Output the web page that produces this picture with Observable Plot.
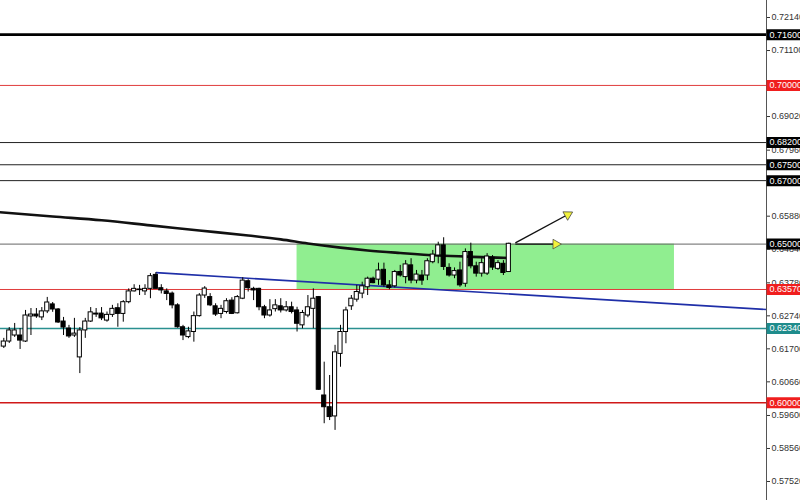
<!DOCTYPE html>
<html>
<head>
<meta charset="utf-8">
<script src="https://cdn.jsdelivr.net/npm/d3@7"></script>
<script src="https://cdn.jsdelivr.net/npm/@observablehq/plot@0.6"></script>
<style>
  html, body { margin: 0; padding: 0; background: #fff; }
  #chart svg { display: block; }
</style>
</head>
<body>
<div id="chart"></div>
<script>
// ---- Candles (open / high / low / close), one per bar index ----
const candleOpen = [
  0.6177,0.6193,0.6212,0.6212,0.6193,0.6272,0.6278,0.6269,0.6288,0.6310,
  0.6294,0.6256,0.6234,0.6212,0.6143,0.6228,0.6256,0.6278,0.6281,0.6259,
  0.6277,0.6298,0.6280,0.6317,0.6351,0.6357,0.6351,0.6359,0.6403,0.6361,
  0.6351,0.6344,0.6307,0.6238,0.6207,0.6223,0.6273,0.6338,0.6333,0.6304,
  0.6280,0.6286,0.6322,0.6282,0.6328,0.6383,0.6359,0.6359,0.6301,0.6275,
  0.6295,0.6304,0.6291,0.6301,0.6291,0.6244,0.6275,0.6296,0.6333,0.6023,
  0.5986,0.5957,0.6154,0.6223,0.6304,0.6325,0.6344,0.6364,0.6391,0.6388,
  0.6419,0.6370,0.6367,0.6412,0.6396,0.6433,0.6385,0.6401,0.6401,0.6443,
  0.6464,0.6496,0.6425,0.6401,0.6417,0.6375,0.6475,0.6430,0.6407,0.6407,
  0.6457,0.6422,0.6438,0.6412
];
const candleHigh = [
  0.6203,0.6237,0.6250,0.6234,0.6291,0.6297,0.6297,0.6300,0.6332,0.6316,
  0.6297,0.6269,0.6244,0.6266,0.6237,0.6266,0.6300,0.6297,0.6300,0.6286,
  0.6307,0.6312,0.6322,0.6359,0.6372,0.6370,0.6372,0.6407,0.6410,0.6372,
  0.6359,0.6349,0.6312,0.6244,0.6238,0.6286,0.6344,0.6366,0.6344,0.6312,
  0.6307,0.6328,0.6331,0.6338,0.6394,0.6388,0.6364,0.6361,0.6307,0.6325,
  0.6325,0.6328,0.6319,0.6317,0.6301,0.6291,0.6338,0.6359,0.6335,0.6128,
  0.6086,0.6181,0.6244,0.6301,0.6338,0.6370,0.6380,0.6396,0.6396,0.6440,
  0.6440,0.6385,0.6417,0.6433,0.6448,0.6454,0.6417,0.6417,0.6454,0.6480,
  0.6506,0.6520,0.6438,0.6425,0.6443,0.6485,0.6503,0.6443,0.6454,0.6470,
  0.6464,0.6448,0.6448,0.6503
];
const candleLow = [
  0.6171,0.6187,0.6206,0.6168,0.6190,0.6212,0.6266,0.6259,0.6281,0.6285,
  0.6250,0.6212,0.6203,0.6206,0.6092,0.6203,0.6253,0.6269,0.6259,0.6254,
  0.6269,0.6238,0.6254,0.6312,0.6349,0.6338,0.6338,0.6328,0.6359,0.6343,
  0.6322,0.6296,0.6235,0.6196,0.6202,0.6191,0.6270,0.6329,0.6303,0.6272,
  0.6265,0.6280,0.6278,0.6280,0.6325,0.6349,0.6322,0.6290,0.6265,0.6270,
  0.6286,0.6283,0.6286,0.6280,0.6223,0.6233,0.6268,0.6233,0.6039,0.5934,
  0.5944,0.5913,0.6112,0.6186,0.6291,0.6317,0.6328,0.6338,0.6375,0.6370,
  0.6364,0.6356,0.6362,0.6396,0.6375,0.6375,0.6375,0.6370,0.6385,0.6438,
  0.6438,0.6417,0.6396,0.6391,0.6364,0.6364,0.6422,0.6396,0.6396,0.6401,
  0.6417,0.6417,0.6401,0.6412
];
const candleClose = [
  0.6193,0.6228,0.6228,0.6196,0.6275,0.6278,0.6272,0.6288,0.6316,0.6294,
  0.6253,0.6237,0.6209,0.6218,0.6228,0.6256,0.6285,0.6281,0.6266,0.6277,
  0.6296,0.6280,0.6317,0.6351,0.6359,0.6355,0.6359,0.6399,0.6359,0.6354,
  0.6343,0.6307,0.6238,0.6212,0.6225,0.6273,0.6338,0.6360,0.6307,0.6278,
  0.6296,0.6320,0.6280,0.6333,0.6385,0.6361,0.6354,0.6301,0.6275,0.6291,
  0.6307,0.6291,0.6301,0.6286,0.6249,0.6283,0.6301,0.6328,0.6041,0.5986,
  0.5955,0.6159,0.6223,0.6291,0.6328,0.6349,0.6367,0.6391,0.6377,0.6417,
  0.6370,0.6362,0.6412,0.6401,0.6436,0.6385,0.6404,0.6385,0.6446,0.6467,
  0.6496,0.6428,0.6401,0.6415,0.6370,0.6475,0.6430,0.6407,0.6440,0.6461,
  0.6426,0.6440,0.6409,0.6501
];

// ---- Moving average (bar index -> value) ----
const maIndex = [-1, 9, 18, 27, 36, 45, 51, 56, 62, 67, 73, 80, 88, 93];
const maValue = [0.6601, 0.6587, 0.6575, 0.6559, 0.6543, 0.6527, 0.6515, 0.6502, 0.6489, 0.6480, 0.6472, 0.6464, 0.6459, 0.6456];

// ---- Horizontal price levels ----
const levelPrice = [0.7160, 0.7000, 0.6820, 0.6750, 0.6700, 0.6500, 0.6357, 0.6234, 0.6000];
const levelKind  = ["major", "red", "black", "black", "black", "grey", "red", "teal", "redBold"];

// ---- Axis tick labels ----
const tickValues = [0.7214, 0.7110, 0.6902, 0.6796, 0.6588, 0.6484, 0.6378, 0.6274, 0.6170, 0.6066, 0.5960, 0.5856, 0.5752];

// ---- Annotations ----
const zoneStart = 54, zoneEnd = 123.5, zoneTop = 0.6500, zoneBottom = 0.6357;
const trendStartIndex = 28, trendStartPrice = 0.6410, trendEndIndex = 140.45, trendEndPrice = 0.6294;
const arrowStartIndex = [94.2, 94.2];
const arrowStartPrice = [0.6504, 0.6500];
const arrowTipIndex   = [104.4, 102.2];
const arrowTipPrice   = [0.6598, 0.6500];

// ---- build ----
const candles = d3.range(candleOpen.length).map(i => ({
  i, o: candleOpen[i], h: candleHigh[i], l: candleLow[i], c: candleClose[i]
}));
const ma = maIndex.map((x, k) => ({x, y: maValue[k]}));
const levels = levelPrice.map((p, k) => ({p, kind: levelKind[k]}));
const arrows = arrowStartIndex.map((x, k) => ({x1: x, y1: arrowStartPrice[k], x2: arrowTipIndex[k], y2: arrowTipPrice[k]}));

const xDomain = [-0.61, 140.45];
const yDomain = [0.56921, 0.72676];

const lineStyle = {
  major:   {stroke: "#000",    width: 2.6, bg: "#000"},
  red:     {stroke: "#e03c3c", width: 1,   bg: "#f01e1e"},
  black:   {stroke: "#222",    width: 1,   bg: "#000"},
  grey:    {stroke: "#666",    width: 1,   bg: "#000"},
  teal:    {stroke: "#2a9090", width: 1.6, bg: "#1f8c8c"},
  redBold: {stroke: "#d01818", width: 1.6, bg: "#f01e1e"}
};

const marks = [];
// green zone
marks.push(Plot.rect([{x1: zoneStart, x2: zoneEnd, y1: zoneBottom, y2: zoneTop}],
  {x1: "x1", x2: "x2", y1: "y1", y2: "y2", fill: "#90ee90"}));
// horizontal levels
for (const l of levels) {
  const s = lineStyle[l.kind];
  marks.push(Plot.ruleY([l.p], {x1: xDomain[0], x2: xDomain[1], stroke: s.stroke, strokeWidth: s.width}));
}
// trend line
marks.push(Plot.link([{x1: trendStartIndex, y1: trendStartPrice, x2: trendEndIndex, y2: trendEndPrice}],
  {x1: "x1", y1: "y1", x2: "x2", y2: "y2", stroke: "#1f2fa8", strokeWidth: 1.6}));
// moving average
marks.push(Plot.line(ma, {x: "x", y: "y", stroke: "#111", strokeWidth: 2.6, curve: "monotone-x"}));
// candle wicks
marks.push(Plot.ruleX(candles, {x: "i", y1: "l", y2: "h", stroke: "#000", strokeWidth: 1}));
// candle bodies
marks.push(Plot.rect(candles, {
  x1: d => d.i - 0.38, x2: d => d.i + 0.38,
  y1: d => Math.min(d.o, d.c), y2: d => Math.max(d.o, d.c),
  fill: d => d.c >= d.o ? "white" : "black",
  stroke: "#000", strokeWidth: 1
}));
// arrows
marks.push(Plot.link(arrows, {x1: "x1", y1: "y1", x2: "x2", y2: "y2", stroke: "#111", strokeWidth: 1.4}));
marks.push(Plot.dot([arrows[0]], {x: "x2", y: "y2", symbol: "triangle", r: 3.6, rotate: 61, dx: -3, dy: 1.7,
  fill: "#f2f23c", stroke: "#444", strokeWidth: 0.7}));
marks.push(Plot.dot([arrows[1]], {x: "x2", y: "y2", symbol: "triangle", r: 3.6, rotate: 90, dx: -3,
  fill: "#f2f23c", stroke: "#444", strokeWidth: 0.7}));
// right axis line
marks.push(Plot.ruleX([xDomain[1]], {stroke: "#555", strokeWidth: 1}));
// axis ticks
marks.push(Plot.axisY(tickValues, {
  anchor: "right", tickSize: 3, tickPadding: 2, fontSize: 9,
  tickFormat: d => d.toFixed(5), color: "#333", label: null
}));
// level labels
for (const l of levels) {
  const s = lineStyle[l.kind];
  marks.push(Plot.ruleY([l.p], {x1: xDomain[1] + 0.1, x2: xDomain[1] + 8, stroke: s.bg, strokeWidth: 11}));
  marks.push(Plot.text([l.p], {x: xDomain[1], y: d => d, text: d => d.toFixed(5), dx: 3,
    textAnchor: "start", fill: "#fff", fontSize: 9}));
}

const chart = Plot.plot({
  width: 800, height: 500,
  marginLeft: 0, marginRight: 34, marginTop: 0, marginBottom: 0,
  x: {domain: xDomain, axis: null},
  y: {domain: yDomain, axis: null},
  style: {background: "#fff", fontFamily: "'Liberation Sans', Arial, sans-serif"},
  marks
});
document.getElementById("chart").appendChild(chart);
</script>
</body>
</html>
